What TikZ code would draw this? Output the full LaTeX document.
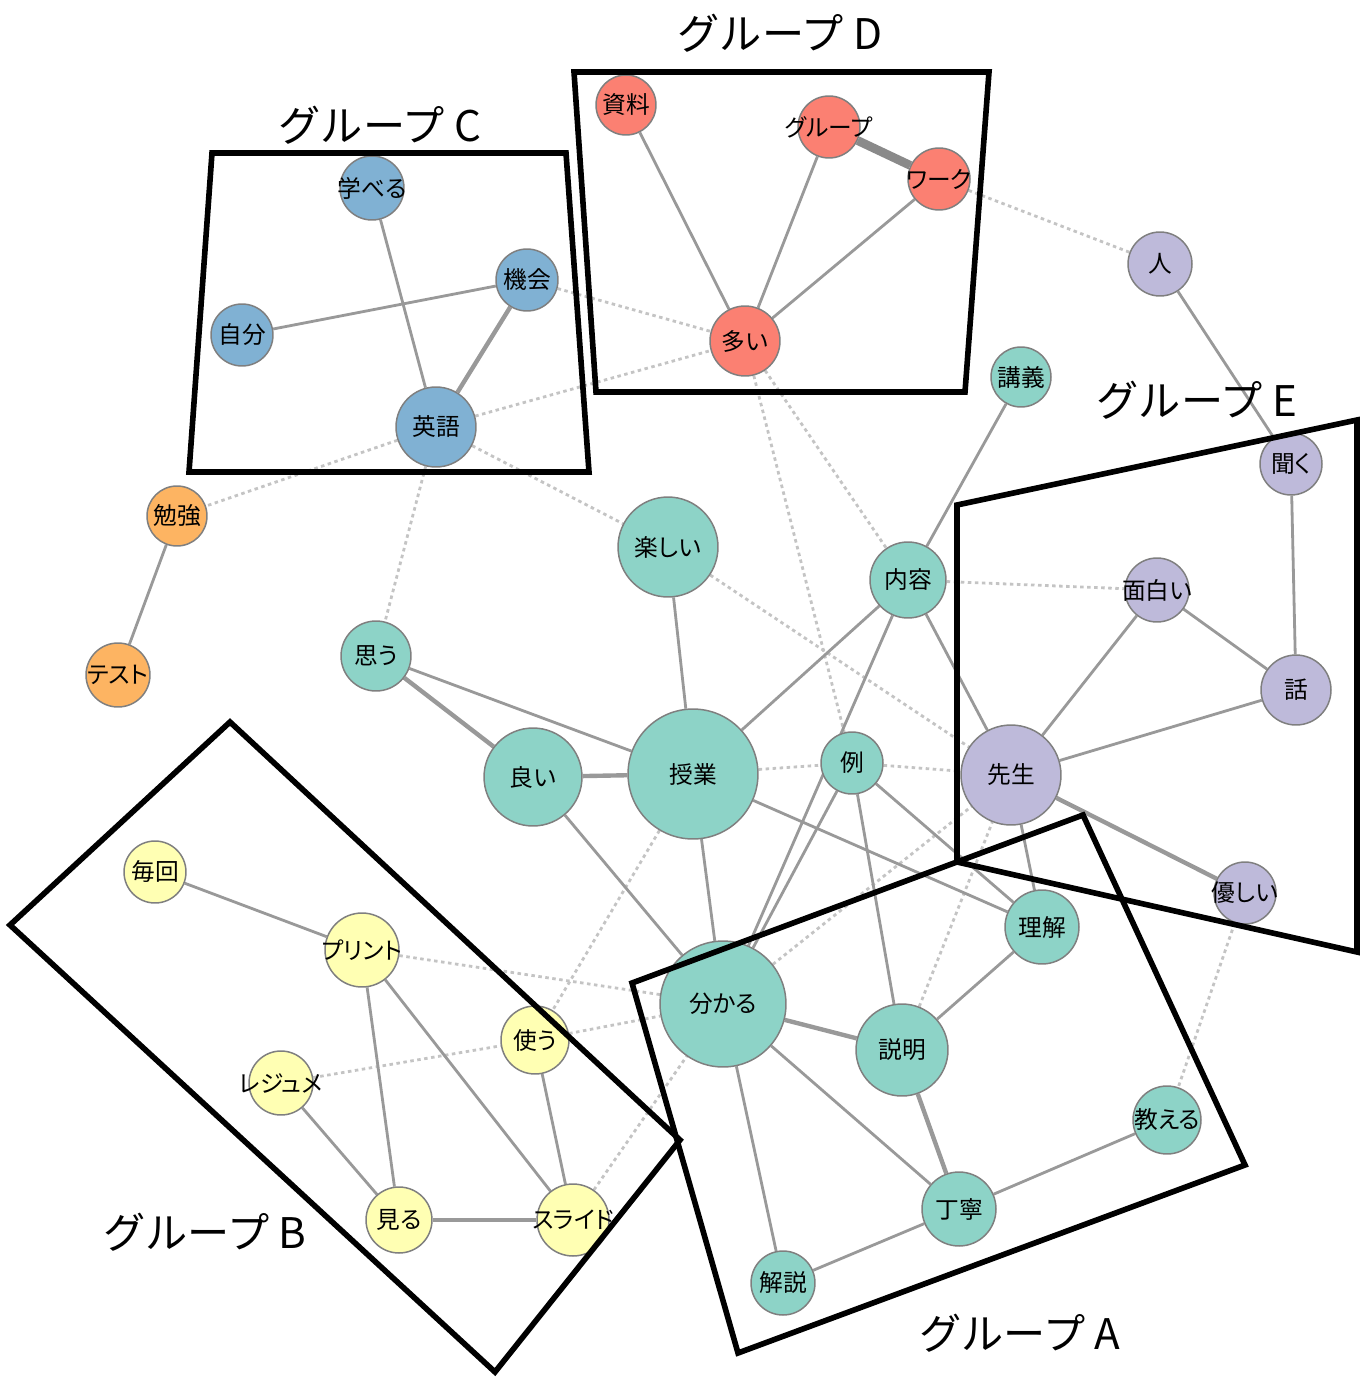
\documentclass[tikz,border=0pt]{standalone}
\usepackage{fontspec}
\setmainfont{Noto Sans CJK JP}[RawFeature=+palt]
\newfontfamily\glfont{Noto Sans CJK JP}
\pgfdeclarelayer{bg}
\pgfsetlayers{bg,main}
\definecolor{cTeal}{HTML}{8DD3C7}
\definecolor{cPurple}{HTML}{BEBADA}
\definecolor{cRed}{HTML}{FB8072}
\definecolor{cBlue}{HTML}{80B1D3}
\definecolor{cOrange}{HTML}{FDB462}
\definecolor{cYellow}{HTML}{FFFFB3}
\definecolor{nodeBorder}{HTML}{7F7F7F}
\definecolor{edgeGray}{HTML}{999999}
\definecolor{dotGray}{HTML}{C4C4C4}
\newcommand{\T}[1]{\makebox[0pt]{#1}}
\tikzset{
  nd/.style={circle, draw=nodeBorder, line width=0.85pt, inner sep=0pt, minimum size=#1*0.04cm, font=\fontsize{13.5}{14}\selectfont},
  tl/.style={nd=#1, fill=cTeal},
  pu/.style={nd=#1, fill=cPurple},
  rd/.style={nd=#1, fill=cRed},
  bl/.style={nd=#1, fill=cBlue},
  og/.style={nd=#1, fill=cOrange},
  yl/.style={nd=#1, fill=cYellow},
  ed/.style={draw=edgeGray, line width=1.6pt},
  edw/.style={draw=edgeGray, line width=2.5pt},
  edx/.style={draw=edgeGray!90!black, line width=5pt},
  dt/.style={draw=dotGray, line width=1.6pt, dash pattern=on 2pt off 2pt},
  grp/.style={draw=black, line width=3.2pt, line join=miter},
  glabel/.style={inner sep=0pt, font=\glfont\fontsize{24}{26}\selectfont}
}
\begin{document}
\begin{tikzpicture}[x=0.02cm, y=-0.02cm]
\useasboundingbox (0,0) rectangle (1366,1378);
% group D (red)
\node[rd=30] (shiryo) at (626,105) {\T{資料}};
\node[rd=31] (group) at (829,127) {\T{グループ}};
\node[rd=31] (work) at (939,179) {\T{ワーク}};
\node[rd=35] (ooi) at (745,341) {\T{多い}};
% group C (blue)
\node[bl=32] (manaberu) at (372,188) {\T{学べる}};
\node[bl=31] (kikai) at (527,280) {\T{機会}};
\node[bl=31] (jibun) at (242,335) {\T{自分}};
\node[bl=40] (eigo) at (436,427) {\T{英語}};
% orange
\node[og=30] (benkyo) at (177,516) {\T{勉強}};
\node[og=32] (test) at (118,675) {\T{テスト}};
% teal
\node[tl=30] (kogi) at (1021,377) {\T{講義}};
\node[tl=50] (tanoshii) at (668,547) {\T{楽しい}};
\node[tl=38] (naiyo) at (908,580) {\T{内容}};
\node[tl=35] (omou) at (376,656) {\T{思う}};
\node[tl=49] (yoi) at (533,777) {\T{良い}};
\node[tl=65] (jugyo) at (693,774) {\T{授業}};
\node[tl=31] (rei) at (852,763) {\T{例}};
\node[tl=63] (wakaru) at (723,1004) {\T{分かる}};
\node[tl=37] (rikai) at (1042,927) {\T{理解}};
\node[tl=46] (setsumei) at (902,1050) {\T{説明}};
\node[tl=37] (teinei) at (959,1209) {\T{丁寧}};
\node[tl=32] (kaisetsu) at (783,1283) {\T{解説}};
\node[tl=34] (oshieru) at (1167,1120) {\T{教える}};
% purple
\node[pu=32] (hito) at (1160,264) {\T{人}};
\node[pu=31] (kiku) at (1291,464) {\T{聞く}};
\node[pu=32] (omoshiroi) at (1157,590) {\T{面白い}};
\node[pu=35] (hanashi) at (1296,690) {\T{話}};
\node[pu=50] (sensei) at (1011,775) {\T{先生}};
\node[pu=31] (yasashii) at (1245,893) {\T{優しい}};
% yellow
\node[yl=31] (maikai) at (155,872) {\T{毎回}};
\node[yl=37] (print) at (362,950) {\T{プリント}};
\node[yl=34] (tsukau) at (535,1040) {\T{使う}};
\node[yl=32] (resume) at (281,1083) {\T{レジュメ}};
\node[yl=33] (miru) at (399,1220) {\T{見る}};
\node[yl=36] (slide) at (573,1220) {\T{スライド}};
\begin{pgfonlayer}{bg}
% dotted edges
\draw[dt] (work) -- (hito);
\draw[dt] (kikai) -- (ooi);
\draw[dt] (eigo) -- (ooi);
\draw[dt] (eigo) -- (benkyo);
\draw[dt] (eigo) -- (tanoshii);
\draw[dt] (eigo) -- (omou);
\draw[dt] (ooi) -- (naiyo);
\draw[dt] (ooi) -- (rei);
\draw[dt] (tanoshii) -- (sensei);
\draw[dt] (naiyo) -- (omoshiroi);
\draw[dt] (jugyo) -- (rei);
\draw[dt] (rei) -- (sensei);
\draw[dt] (jugyo) -- (tsukau);
\draw[dt] (print) -- (wakaru);
\draw[dt] (resume) -- (tsukau);
\draw[dt] (tsukau) -- (wakaru);
\draw[dt] (slide) -- (wakaru);
\draw[dt] (wakaru) -- (sensei);
\draw[dt] (setsumei) -- (sensei);
\draw[dt] (yasashii) -- (oshieru);
% solid edges
\draw[ed] (shiryo) -- (ooi);
\draw[ed] (group) -- (ooi);
\draw[ed] (work) -- (ooi);
\draw[edx] (group) -- (work);
\draw[ed] (manaberu) -- (eigo);
\draw[ed] (jibun) -- (kikai);
\draw[edw] (kikai) -- (eigo);
\draw[ed] (benkyo) -- (test);
\draw[ed] (hito) -- (kiku);
\draw[ed] (kiku) -- (hanashi);
\draw[ed] (omoshiroi) -- (hanashi);
\draw[ed] (omoshiroi) -- (sensei);
\draw[ed] (hanashi) -- (sensei);
\draw[edw] (sensei) -- (yasashii);
\draw[ed] (kogi) -- (naiyo);
\draw[ed] (naiyo) -- (jugyo);
\draw[ed] (naiyo) -- (sensei);
\draw[ed] (naiyo) -- (wakaru);
\draw[ed] (jugyo) -- (tanoshii);
\draw[edw] (jugyo) -- (yoi);
\draw[ed] (jugyo) -- (omou);
\draw[edw] (yoi) -- (omou);
\draw[ed] (yoi) -- (wakaru);
\draw[ed] (jugyo) -- (wakaru);
\draw[ed] (jugyo) -- (rikai);
\draw[ed] (rei) -- (rikai);
\draw[ed] (rei) -- (setsumei);
\draw[ed] (rei) -- (wakaru);
\draw[ed] (sensei) -- (rikai);
\draw[ed] (rikai) -- (setsumei);
\draw[edw] (wakaru) -- (setsumei);
\draw[ed] (wakaru) -- (teinei);
\draw[ed] (wakaru) -- (kaisetsu);
\draw[edw] (setsumei) -- (teinei);
\draw[ed] (teinei) -- (oshieru);
\draw[ed] (teinei) -- (kaisetsu);
\draw[ed] (maikai) -- (print);
\draw[ed] (print) -- (miru);
\draw[ed] (print) -- (slide);
\draw[ed] (resume) -- (miru);
\draw[edw] (miru) -- (slide);
\draw[ed] (tsukau) -- (slide);
\end{pgfonlayer}
% group boxes
\draw[grp] (574,72) -- (989,72) -- (965,392) -- (596,392) -- cycle;
\draw[grp] (212,153) -- (566,153) -- (589,472) -- (189,472) -- cycle;
\draw[grp] (957,505) -- (1357,420) -- (1357,952) -- (957,862) -- cycle;
\draw[grp] (1083,815) -- (1245,1165) -- (738,1353) -- (632,983) -- cycle;
\draw[grp] (230,722) -- (680,1140) -- (495,1372) -- (10,925) -- cycle;
% group labels
\node[glabel] (lD) at (780,33) {グループ D};
\node[glabel] (lC) at (380,125) {グループ C};
\node[glabel] (lE) at (1197,400) {グループ E};
\node[glabel] (lA) at (1020,1333) {グループ A};
\node[glabel] (lB) at (205,1232) {グループ B};
\end{tikzpicture}
\end{document}
